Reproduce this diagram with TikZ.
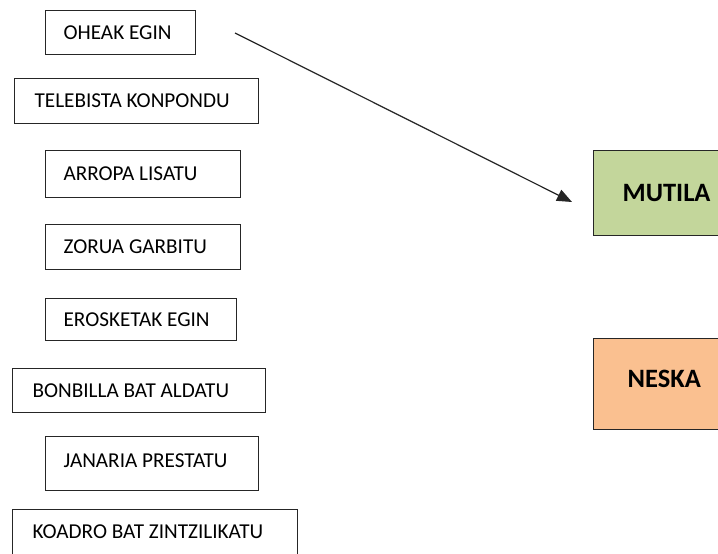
\documentclass[tikz,border=0pt]{standalone}
\usepackage{fontspec}
\setmainfont{Carlito}
\usetikzlibrary{arrows.meta}
\definecolor{boygreen}{HTML}{C3D69B}
\definecolor{girlorange}{HTML}{FAC090}
\definecolor{edgegray}{HTML}{262626}
\newcommand\lbox[2]{\makebox[#1][l]{#2}}
\newcommand\upby[2]{\raisebox{#1}[\height][\depth]{#2}}
\tikzset{
  task/.style={draw=edgegray, line width=1.2pt, rectangle, anchor=north west,
    inner xsep=18pt, inner ysep=0pt,
    font=\fontsize{21.2}{24}\selectfont},
  target/.style={draw=edgegray, line width=1.2pt, rectangle, anchor=north west,
    inner sep=0pt, font=\fontsize{26.5}{30}\selectfont\bfseries},
  link/.style={line width=1.2pt, draw=edgegray, -{Triangle[length=15pt,width=12pt]}}
}
\begin{document}
\begin{tikzpicture}[x=1pt,y=-1pt]
\useasboundingbox (0,0) rectangle (718,554);
\clip (0,0) rectangle (718,554);
\fill[white] (0,0) rectangle (718,554);
\node[task, minimum height=44pt] (t1) at (45,10) {\lbox{114pt}{OHEAK EGIN}};
\node[task, minimum height=45pt] (t2) at (14,78) {\lbox{208pt}{\hspace*{2pt}TELEBISTA KONPONDU}};
\node[task, minimum height=47pt] (t3) at (45,150) {\lbox{159pt}{ARROPA LISATU}};
\node[task, minimum height=45pt] (t4) at (45,224) {\lbox{159pt}{ZORUA GARBITU}};
\node[task, minimum height=42pt] (t5) at (45,298) {\lbox{155pt}{EROSKETAK EGIN}};
\node[task, minimum height=44pt] (t6) at (12,368) {\lbox{217pt}{\hspace*{2pt}BONBILLA BAT ALDATU}};
\node[task, minimum height=54pt] (t7) at (45,436) {\lbox{177pt}{\upby{3pt}{JANARIA PRESTATU}}};
\node[task, minimum height=46pt] (t8) at (12,509) {\lbox{249pt}{\hspace*{2pt}\upby{1pt}{KOADRO BAT ZINTZILIKATU}}};
\node[target, fill=boygreen, minimum height=85pt] (boy) at (593,150) {\lbox{150pt}{\hspace*{29pt}MUTILA}};
\node[target, fill=girlorange, minimum height=91pt] (girl) at (593,338) {\lbox{150pt}{\hspace*{34pt}\upby{5pt}{NESKA}}};
\coordinate (a1) at (235,33);
\coordinate (a2) at (572,202);
\draw[link] (a1) -- (a2);
\end{tikzpicture}
\end{document}
